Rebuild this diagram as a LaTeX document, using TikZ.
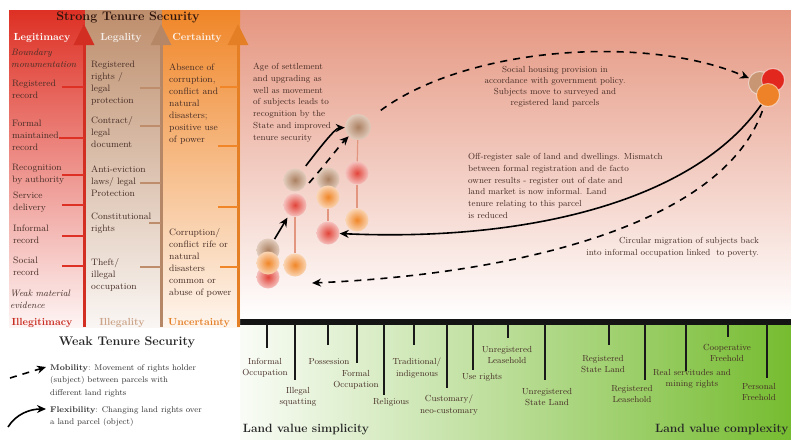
\documentclass[tikz,border=0pt]{standalone}
\usepackage{amsmath}
\usetikzlibrary{arrows.meta}
\definecolor{legred}{RGB}{222,48,36}
\definecolor{legbrown}{RGB}{190,142,108}
\definecolor{legorange}{RGB}{240,134,40}
\definecolor{salmon}{RGB}{229,150,128}
\definecolor{landgreen}{RGB}{118,188,48}
\definecolor{txt}{RGB}{70,45,38}
\definecolor{headtxt}{RGB}{45,20,12}
\definecolor{linkcol}{RGB}{226,150,128}
\definecolor{grpbrown}{RGB}{200,150,115}
\definecolor{grpred}{RGB}{226,40,30}
\definecolor{grporange}{RGB}{238,130,40}

\begin{document}
\begin{tikzpicture}[x=1pt, y=-1pt,
	coltext/.style={anchor=north west, align=left, inner sep=0pt, text=txt, font=\fontsize{9.3}{12}\selectfont},
	mtext/.style={inner sep=0pt, text=txt, font=\fontsize{8.8}{11.8}\selectfont},
	axtext/.style={anchor=north, align=center, inner sep=0pt, text=txt, font=\fontsize{8.8}{11.5}\selectfont},
	legtext/.style={anchor=north west, align=left, inner sep=0pt, text=black!80, font=\fontsize{8.3}{12.5}\selectfont},
	heading/.style={inner sep=0pt, text=headtxt, font=\fontsize{12.5}{14}\selectfont\bfseries},
	landhead/.style={inner sep=0pt, text=black!85, font=\fontsize{12}{14}\selectfont\bfseries},
	colhead/.style={inner sep=0pt, font=\fontsize{10.3}{12}\selectfont\bfseries},
	colarrow/.style={line width=3pt, -{Triangle[width=20pt,length=21pt]}},
	coltick/.style={line width=1.3pt},
	axtick/.style={line width=1.8pt, draw=black!90},
	ball/.style={circle, minimum size=23pt, inner sep=0pt},
	redball/.style={ball, inner color=legred!90, outer color=legred!30!white},
	brownball/.style={ball, inner color=legbrown!90!black, outer color=legbrown!45!white},
	orangeball/.style={ball, inner color=legorange, outer color=legorange!35!white},
	grpball/.style={ball, draw=white, draw opacity=0.5, line width=1pt},
	link/.style={line width=1.2pt, draw=linkcol},
	flex/.style={line width=1.6pt, -{Stealth[length=9pt,width=8pt]}},
	mob/.style={flex, dash pattern=on 7pt off 6pt}]
	\useasboundingbox (0,0) rectangle (791,439);
	\shade[top color=salmon, bottom color=white] (238,10) rectangle (791,319);
	\shade[left color=landgreen!4, middle color=landgreen!40, right color=landgreen] (240,325) rectangle (791,439);
	\fill[black!92] (240,319) rectangle (791,325);
	\shade[top color=legred, bottom color=legred!5] (9,10) rectangle (85,327);
	\shade[top color=legbrown, bottom color=legbrown!8] (85,10) rectangle (162,327);
	\shade[top color=legorange, bottom color=legorange!8] (162,10) rectangle (240,327);

	\coordinate (lgb) at (84,327);
	\coordinate (lgt) at (84,24);
	\coordinate (lab) at (161,327);
	\coordinate (lat) at (161,24);
	\coordinate (ceb) at (238,327);
	\coordinate (cet) at (238,24);
	\draw[colarrow, legred!95!black] (lgb) -- (lgt);
	\draw[colarrow, legbrown!95!black] (lab) -- (lat);
	\draw[colarrow, legorange!95!black] (ceb) -- (cet);
	\foreach \x/\y in {62/87, 59/138, 62/175, 62/205, 62/236, 62/266}
		\draw[coltick, legred] (\x,\y) -- (84,\y);
	\foreach \x/\y in {140/88, 140/126, 140/183, 149/223, 140/267}
		\draw[coltick, legbrown] (\x,\y) -- (161,\y);
	\foreach \x/\y in {220/87, 218/146, 218/207, 220/267}
		\draw[coltick, legorange] (\x,\y) -- (238,\y);

	\node[heading] (strong) at (128,17) {Strong Tenure Security};
	\node[colhead, text=white] (legit) at (42,38) {Legitimacy};
	\node[colhead, text=legbrown!15!white] (legal) at (121,38) {Legality};
	\node[colhead, text=legorange!10!white] (cert) at (197,38) {Certainty};
	\node[colhead, text=legred!90!black] (illegit) at (42,323) {Illegitimacy};
	\node[colhead, text=legbrown!80!white] (illegal) at (122,323) {Illegality};
	\node[colhead, text=legorange!95!black] (uncert) at (199,323) {Uncertainty};
	\node[heading, text=black!85] (weak) at (127,342) {Weak Tenure Security};

	\node[coltext, font=\fontsize{9.3}{12}\selectfont\itshape] (bound) at (11,49) {Boundary\\monumentation};
	\node[coltext] (regrec) at (12,80) {Registered\\record};
	\node[coltext] (formrec) at (12,120) {Formal\\maintained\\record};
	\node[coltext] (recog) at (12,164) {Recognition\\by authority};
	\node[coltext] (service) at (13,192) {Service\\delivery};
	\node[coltext] (infrec) at (13,225) {Informal\\record};
	\node[coltext] (socrec) at (13,257) {Social\\record};
	\node[coltext, font=\fontsize{9.3}{12}\selectfont\itshape] (weakev) at (10,290) {Weak material\\evidence};
	\node[coltext] (regrights) at (91,61) {Registered\\rights /\\legal\\protection};
	\node[coltext] (contract) at (91,116) {Contract/\\legal\\document};
	\node[coltext] (antiev) at (91,166) {Anti-eviction\\laws/ legal\\Protection};
	\node[coltext] (const) at (91,213) {Constitutional\\rights};
	\node[coltext] (theft) at (91,258) {Theft/\\illegal\\occupation};
	\node[coltext] (absence) at (169,64) {Absence of\\corruption,\\conflict and\\natural\\disasters;\\positive use\\of power};
	\node[coltext] (corrupt) at (169,228) {Corruption/\\conflict rife or\\natural\\disasters\\common or\\abuse of power};

	\foreach \tx/\ty/\lx/\ly/\lab [count=\i] in {
		267/348/265/358/{Informal\\Occupation},
		295/380/298/387/{Illegal\\squatting},
		328/345/329/358/{Possession},
		357/363/356/370/{Formal\\Occupation},
		384/395/391/398/{Religious},
		414/345/417/358/{Traditional/\\indigenous},
		447/388/449/395/{Customary/\\neo-customary},
		473/370/482/373/{Use rights},
		508/338/507/346/{Unregistered\\Leasehold},
		545/380/547/388/{Unregistered\\State Land},
		609/345/603/355/{Registered\\State Land},
		645/380/632/385/{Registered\\Leasehold},
		686/371/692/369/{Real servitudes and\\mining rights},
		728/337/727/344/{Cooperative\\Freehold},
		767/378/759/383/{Personal\\Freehold}}{
		\coordinate (t\i) at (\tx,324);
		\coordinate (e\i) at (\tx,\ty);
		\draw[axtick] (t\i) -- (e\i);
		\node[axtext] (land\i) at (\lx,\ly) {\lab};
	}
	\node[landhead] (simple) at (306,430) {Land value simplicity};
	\node[landhead, anchor=west] (complex) at (655,430) {Land value complexity};

	\node[mtext, anchor=north west, align=left] (agetxt) at (253,63) {Age of settlement\\and upgrading as\\well as movement\\of subjects leads to\\recognition by the\\State and improved\\tenure security};
	\node[mtext, anchor=north, align=center, font=\fontsize{8.8}{11}\selectfont] (socialtxt) at (555,66) {Social housing provision in\\accordance with government policy.\\Subjects move to surveyed and\\registered land parcels};
	\node[mtext, anchor=north west, align=left] (offtxt) at (468,153) {Off-register sale of land and dwellings. Mismatch\\between formal registration and de facto\\owner results - register out of date and\\land market is now informal. Land\\tenure relating to this parcel\\is reduced};
	\node[mtext, anchor=north east, align=right] (circtxt) at (759,237) {Circular migration of subjects back\\into informal occupation linked\ \ to poverty.};

	\node[brownball] (ab) at (268,250) {};
	\node[redball] (ar) at (268,277) {};
	\node[orangeball] (ao) at (268,263) {};
	\node[brownball] (bb) at (295,180) {};
	\node[redball] (br) at (295,205) {};
	\node[orangeball] (bo) at (295,265) {};
	\node[brownball] (cb) at (328,179) {};
	\node[orangeball] (co) at (328,197) {};
	\node[redball] (cr) at (328,233) {};
	\node[brownball, minimum size=26pt] (dtop) at (358,127) {};
	\node[redball] (dred) at (357,173) {};
	\node[orangeball] (dorg) at (357,220) {};
	\draw[link] (br) -- (bo);
	\draw[link] (co) -- (cr);
	\draw[link] (dtop) -- (dred);
	\draw[link] (dred) -- (dorg);

	\node[grpball, fill=grpbrown] (gb) at (760,83) {};
	\node[grpball, fill=grpred] (gr) at (773,80) {};
	\node[grpball, fill=grporange] (go) at (768,95) {};

	\coordinate (dst) at (309,183);
	\coordinate (back) at (312,283);
	\draw[flex, shorten <=1pt, shorten >=3pt] (ab) -- (br);
	\draw[flex, shorten <=6pt] (bb) .. controls (318,150) and (335,128) .. (dtop);
	\draw[mob] (dst) .. controls (325,165) and (340,145) .. (dtop);
	\draw[mob, shorten <=15pt] (dtop) .. controls (470,45) and (650,35) .. (gb);
	\draw[flex] (go) .. controls (695,200) and (530,242) .. (cr);
	\draw[mob, shorten <=5pt] (go) .. controls (720,230) and (500,275) .. (back);

	\coordinate (ms) at (10,378);
	\coordinate (me) at (46,367);
	\coordinate (fs) at (8,427);
	\coordinate (fe) at (46,409);
	\draw[mob] (ms) -- (me);
	\draw[flex] (fs) .. controls (16,414) and (30,409) .. (fe);
	\node[legtext] (mobtxt) at (50,364) {\textbf{Mobility}: Movement of rights holder\\(subject) between parcels with\\different land rights};
	\node[legtext] (flextxt) at (50,406) {\textbf{Flexibility}: Changing land rights over\\a land parcel (object)};
\end{tikzpicture}
\end{document}
